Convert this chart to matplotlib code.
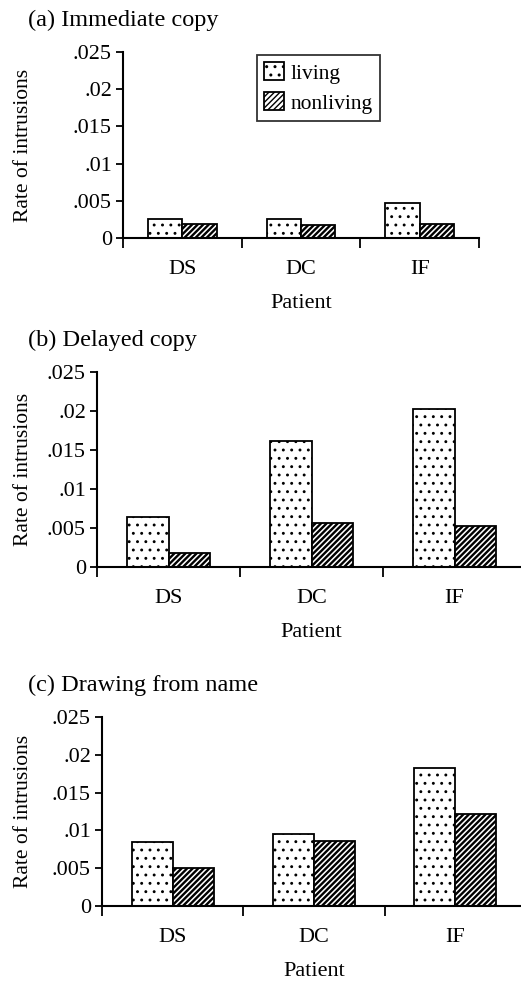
import matplotlib
matplotlib.use("Agg")
import matplotlib.pyplot as plt
import numpy as np

plt.rcParams['font.family'] = ['Liberation Serif', 'DejaVu Serif']

patients = ["DS", "DC", "IF"]
series = ["living", "nonliving"]
titles = ["(a) Immediate copy", "(b) Delayed copy", "(c) Drawing from name"]

immediate_living = [0.0025, 0.0026, 0.0047]
immediate_nonliving = [0.0019, 0.00175, 0.0019]
delayed_living = [0.0064, 0.0162, 0.0202]
delayed_nonliving = [0.00175, 0.0057, 0.0053]
naming_living = [0.0085, 0.0095, 0.0182]
naming_nonliving = [0.0050, 0.0086, 0.0122]

yticks = [0, 0.005, 0.01, 0.015, 0.02, 0.025]
ytick_labels = ["0", ".005", ".01", ".015", ".02", ".025"]

W, H = 521, 983
fig = plt.figure(figsize=(W / 100, H / 100), dpi=100)


def px(left, top, right, bottom):
    return [left / W, 1 - bottom / H, (right - left) / W, (bottom - top) / H]


def hatched_bars(ax, xs, vals, hatch, hlw, label):
    with plt.rc_context({'hatch.linewidth': hlw}):
        bars = ax.bar(xs, vals, bw, facecolor="white", edgecolor="black",
                      linewidth=1.3, hatch=hatch, label=label)
    for b in bars:
        if hasattr(b, "set_hatch_linewidth"):
            b.set_hatch_linewidth(hlw)
    return bars


# axes boxes in pixels: left, top, right, bottom
boxes = [(123, 52, 479, 238), (97, 372, 526, 567), (102, 717, 526, 906)]
title_y = [20, 340, 685]
data = [(immediate_living, immediate_nonliving),
        (delayed_living, delayed_nonliving),
        (naming_living, naming_nonliving)]

bw = 0.29
x = np.arange(len(patients)) + 0.5

for i, (box, (liv, nonliv)) in enumerate(zip(boxes, data)):
    ax = fig.add_axes(px(*box))
    hatched_bars(ax, x - bw / 2, liv, "..", 0.9, series[0])
    hatched_bars(ax, x + bw / 2, nonliv, "//////", 1.7, series[1])
    ax.set_xlim(0, 3)
    ax.set_ylim(0, 0.025)
    ax.set_yticks(yticks)
    ax.set_yticklabels(ytick_labels, fontsize=16)
    ax.set_xticks(x)
    ax.set_xticklabels(patients, fontsize=16)
    ax.set_xticks([0, 1, 2, 3], minor=True)
    ax.tick_params(axis='x', which='major', length=0, pad=16)
    ax.tick_params(axis='x', which='minor', length=7, width=1.3, direction='out')
    ax.tick_params(axis='y', length=5, width=1.3, direction='out', pad=3)
    for s in ["top", "right"]:
        ax.spines[s].set_visible(False)
    for s in ["left", "bottom"]:
        ax.spines[s].set_linewidth(1.5)
    ax.set_ylabel("Rate of intrusions", fontsize=15.5)
    ax.yaxis.set_label_coords((33 - box[0]) / (box[2] - box[0]), 0.5)
    ax.set_xlabel("Patient", fontsize=16)
    ax.xaxis.set_label_coords(0.5, -56 / (box[3] - box[1]))
    fig.text(28 / W, 1 - title_y[i] / H, titles[i], fontsize=17.5,
             ha="left", va="center")
    if i == 0:
        leg = ax.legend(loc="upper left", bbox_to_anchor=(0.376, 0.985),
                        fontsize=15.5, frameon=True, fancybox=False,
                        handlelength=0.9, handleheight=0.9, handletextpad=0.3,
                        borderpad=0.35, labelspacing=0.4, borderaxespad=0)
        leg.get_frame().set_edgecolor("black")
        leg.get_frame().set_linewidth(1.3)

fig.savefig("out.png", dpi=100)
